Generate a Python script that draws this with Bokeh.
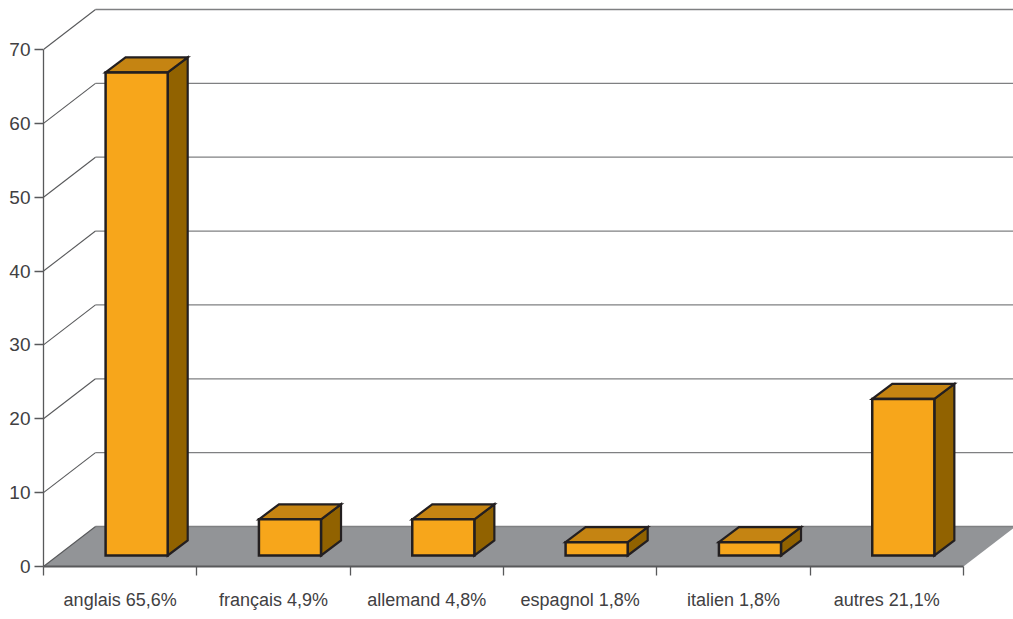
from bokeh.plotting import figure
from bokeh.embed import file_html
from bokeh.resources import INLINE
from bokeh.models import FixedTicker, Range1d

categories = ["anglais 65,6%", "français 4,9%", "allemand 4,8%", "espagnol 1,8%", "italien 1,8%", "autres 21,1%"]
values = [65.4, 4.9, 4.9, 1.8, 1.8, 21.2]
y_ticks = [0, 10, 20, 30, 40, 50, 60, 70]

FONT = "Liberation Sans"
C_FRONT, C_TOP, C_SIDE = "#F7A61B", "#C58412", "#916200"
C_FLOOR, C_EDGE = "#929497", "#231F20"

UX = 153.33   # px per category
UY = 7.386    # px per value unit
WALL_X, WALL_Y = 52 / UX, 40 / UY     # depth of the chart box
BAR_DX, BAR_DY = 20 / UX, 15 / UY     # depth of a bar
BAR_L, BAR_R = 0.405, 0.81            # bar front inside a category
BAR_BASE = 11 / UY                    # front of bars sits above the axis plane

n = len(categories)
p = figure(frame_width=970, frame_height=566, min_border_left=43, min_border_right=0,
           min_border_top=0, min_border_bottom=53, output_backend="svg", toolbar_location=None,
           x_range=Range1d(0, 970 / UX), y_range=Range1d(0, 566 / UY),
           background_fill_color="white", border_fill_color="white")
p.outline_line_color = None
p.grid.visible = False

# floor
p.patch([0, WALL_X, n + WALL_X, n], [0, WALL_Y, WALL_Y, 0], fill_color=C_FLOOR, line_color=None)

# wall grid lines and their diagonals
p.segment([WALL_X] * len(y_ticks), [t + WALL_Y for t in y_ticks],
          [n + WALL_X] * len(y_ticks), [t + WALL_Y for t in y_ticks],
          line_color="#7f8082", line_width=1.3)
p.segment([0] * len(y_ticks), y_ticks, [WALL_X] * len(y_ticks), [t + WALL_Y for t in y_ticks],
          line_color="#58595B", line_width=1.1)

# bars
for i, v in enumerate(values):
    l, r = i + BAR_L, i + BAR_R
    b, t = BAR_BASE, BAR_BASE + v
    p.patch([r, r + BAR_DX, r + BAR_DX, r], [b, b + BAR_DY, t + BAR_DY, t],
            fill_color=C_SIDE, line_color=C_EDGE, line_width=2.2, line_join="miter")
    p.patch([l, l + BAR_DX, r + BAR_DX, r], [t, t + BAR_DY, t + BAR_DY, t],
            fill_color=C_TOP, line_color=C_EDGE, line_width=2.2, line_join="miter")
    p.patch([l, r, r, l], [b, b, t, t],
            fill_color=C_FRONT, line_color=C_EDGE, line_width=2.5, line_join="miter")

# axes
ax = p.xaxis[0]
centers = [i + 0.5 for i in range(n)]
ax.ticker = FixedTicker(ticks=centers, minor_ticks=list(range(n + 1)))
ax.major_label_overrides = {c: s for c, s in zip(centers, categories)}
ax.bounds = (0, n)
ax.major_tick_line_color = None
ax.major_tick_out = 0
ax.major_tick_in = 0
ax.minor_tick_out = 9
ax.minor_tick_in = 0
ax.minor_tick_line_color = "#58595B"
ax.minor_tick_line_width = 1.3
ax.axis_line_color = "#58595B"
ax.axis_line_width = 2
ax.major_label_standoff = 14
ax.major_label_text_font = FONT
ax.major_label_text_font_size = "18px"
ax.major_label_text_color = "#414042"

ay = p.yaxis[0]
ay.ticker = FixedTicker(ticks=y_ticks)
ay.bounds = (0, 70)
ay.major_tick_out = 9
ay.major_tick_in = 0
ay.minor_tick_line_color = None
ay.major_tick_line_color = "#58595B"
ay.major_tick_line_width = 1.3
ay.axis_line_color = "#58595B"
ay.axis_line_width = 1.3
ay.major_label_standoff = 4
ay.major_label_text_font = FONT
ay.major_label_text_font_size = "19px"
ay.major_label_text_color = "#414042"

open("out.html", "w").write(file_html(p, INLINE))
